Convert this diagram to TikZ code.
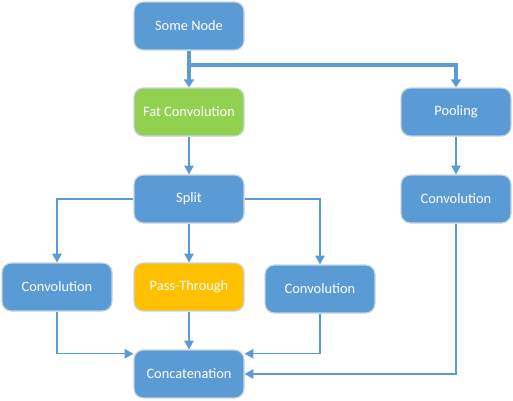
\documentclass[tikz,border=0pt]{standalone}
\usepackage{fontspec}
\setmainfont{Carlito}
\usepackage{tikz}
\usetikzlibrary{arrows.meta}

\definecolor{boxblue}{HTML}{5B9BD5}
\definecolor{boxgreen}{HTML}{92D050}
\definecolor{boxorange}{HTML}{FFC000}
\definecolor{boxedge}{HTML}{C9D3DD}

\tikzset{
  box/.style={rectangle, rounded corners=7pt, fill=boxblue, draw=boxedge, line width=0.9pt,
    minimum width=82.5pt, minimum height=36pt, text=white, font=\fontsize{10.8}{13}\selectfont},
  thinarrow/.style={draw=boxblue, line width=0.9pt, -{Triangle[length=6.5pt,width=7pt]}},
  thickarrow/.style={draw=boxblue, line width=2.5pt, -{Triangle[length=6pt,width=7.5pt]}}
}

\begin{document}
\begin{tikzpicture}[x=0.75pt,y=-0.75pt]
% \draw (0,0) grid (513,400);
\useasboundingbox (0,0) rectangle (513,400);
\node[box] (some) at (189,26) {Some Node};
\node[box, fill=boxgreen] (fat) at (189,112) {Fat Convolution};
\node[box] (pool) at (456,112) {Pooling};
\node[box] (split) at (189,199) {Split};
\node[box] (convr) at (456,199) {Convolution};
\node[box] (convl) at (57,287) {Convolution};
\node[box, fill=boxorange] (pass) at (189,287) {Pass-Through};
\node[box] (convm) at (320,289) {Convolution};
\node[box] (concat) at (189,374) {Concatenation};
\coordinate (fork) at (189,65);
\draw[thickarrow] (some) -- (fat);
\draw[thickarrow] (fork) -| (pool);
\draw[thinarrow] (fat) -- (split);
\draw[thinarrow] (pool) -- (convr);
\draw[thinarrow] (split.west) -| (convl.north);
\draw[thinarrow] (split) -- (pass);
\draw[thinarrow] (split.east) -| (convm.north);
\draw[thinarrow] (convl.south) |- (concat.160);
\draw[thinarrow] (pass) -- (concat);
\draw[thinarrow] (convm.south) |- (concat.20);
\draw[thinarrow] (convr.south) |- (concat.east);
\end{tikzpicture}
\end{document}
